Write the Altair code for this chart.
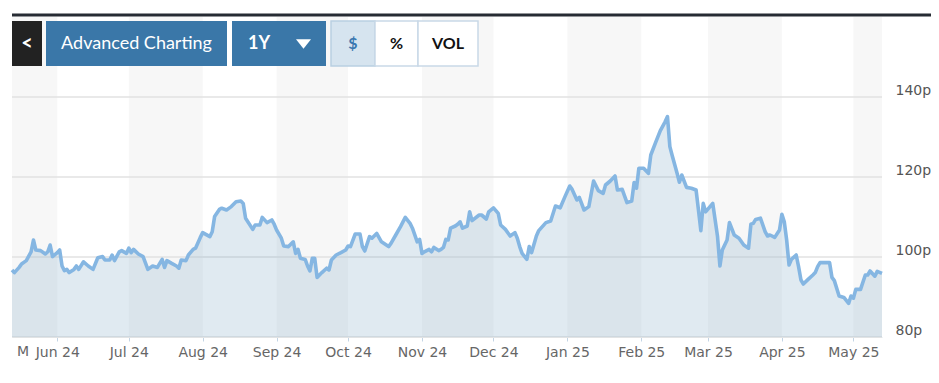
import altair as alt
import pandas as pd

# ---------------- data ----------------
start_date = "2024-05-13"
day_offsets = [
    0, 1, 3, 4, 6, 8, 9, 10, 12, 14, 15, 16, 17, 19, 20, 21, 22, 23, 24, 26,
    27, 28, 30, 32, 34, 36, 38, 39, 41, 42, 43, 45, 46, 48, 49, 50, 51, 53, 55, 57,
    59, 61, 63, 64, 65, 67, 69, 70, 71, 73, 74, 76, 77, 79, 80, 83, 84, 85, 87, 88,
    90, 92, 94, 96, 97, 98, 101, 102, 104, 105, 107, 109, 110, 111, 113, 114, 116, 118, 119, 120,
    121, 123, 124, 125, 126, 127, 128, 130, 132, 133, 134, 136, 138, 140, 141, 142, 144, 146, 147, 148,
    150, 151, 153, 155, 158, 159, 161, 163, 165, 167, 168, 170, 171, 172, 173, 175, 176, 177, 179, 180,
    181, 182, 183, 184, 186, 187, 188, 189, 191, 192, 193, 196, 197, 199, 200, 202, 204, 205, 207, 209,
    211, 212, 213, 214, 216, 217, 218, 220, 221, 224, 226, 228, 230, 232, 234, 235, 237, 238, 240, 242,
    244, 246, 248, 249, 251, 253, 254, 256, 258, 260, 261, 262, 263, 265, 267, 268, 270, 272, 274, 275,
    276, 277, 279, 280, 281, 283, 285, 287, 288, 289, 290, 291, 294, 296, 297, 298, 300, 301, 303, 305,
    307, 309, 310, 311, 312, 314, 316, 317, 318, 320, 322, 323, 324, 325, 326, 327, 329, 330, 331, 332,
    334, 336, 337, 338, 339, 341, 343, 344, 345, 347, 349, 351, 352, 353, 354, 356, 358, 359, 360, 362,
    363, 365,
]
prices = [
    96.75, 96.1, 97.4, 98.25, 99.1, 101.3, 104.25, 101.75, 101.6, 100.75, 101.3, 103.0, 100.1, 101.1, 101.75, 97.75, 96.6, 96.9, 96.1, 96.9,
    97.75, 96.9, 98.8, 97.75, 96.9, 99.8, 100.1, 99.25, 99.25, 100.5, 99.1, 101.3, 101.6, 100.9, 102.2, 101.1, 101.9, 100.75, 100.1, 96.9,
    97.75, 97.4, 99.4, 97.4, 99.1, 98.4, 97.75, 97.2, 99.25, 99.1, 100.5, 101.9, 102.2, 104.9, 106.1, 105.1, 106.3, 110.1, 111.9, 112.2,
    111.75, 112.6, 113.8, 114.0, 113.4, 109.7, 106.9, 108.0, 108.0, 109.9, 108.6, 109.25, 108.2, 106.75, 104.7, 102.75, 102.6, 103.8, 100.9, 101.9,
    99.7, 99.4, 97.75, 96.5, 99.7, 99.7, 94.9, 96.1, 97.2, 96.75, 99.25, 100.5, 101.1, 101.75, 102.75, 102.6, 105.75, 105.75, 102.6, 101.5,
    105.1, 104.7, 105.9, 103.8, 102.6, 103.4, 105.5, 107.6, 109.9, 108.4, 107.2, 103.8, 104.4, 100.9, 101.3, 101.9, 101.3, 102.4, 101.6, 101.9,
    102.4, 104.4, 104.25, 107.2, 107.75, 108.2, 108.8, 107.2, 107.75, 111.3, 109.1, 110.5, 110.5, 109.5, 111.3, 112.3, 110.9, 108.0, 106.9, 105.25,
    106.1, 104.7, 102.6, 100.9, 99.4, 102.6, 101.1, 105.25, 106.6, 108.6, 109.0, 112.75, 112.3, 115.1, 117.75, 116.9, 114.25, 114.9, 111.75, 112.6,
    119.0, 116.6, 115.9, 118.0, 119.0, 120.25, 116.75, 116.9, 113.6, 114.0, 118.6, 117.2, 122.2, 122.2, 120.9, 125.5, 128.6, 131.6, 133.8, 135.1,
    127.6, 125.3, 121.0, 118.7, 120.5, 117.4, 117.2, 116.75, 111.75, 106.6, 113.4, 111.3, 113.4, 105.1, 97.75, 101.75, 104.25, 108.6, 105.5, 104.7,
    103.0, 102.2, 108.2, 108.4, 109.4, 109.7, 106.3, 105.25, 105.5, 104.9, 106.75, 110.7, 108.8, 104.25, 98.0, 99.4, 100.5, 97.6, 94.25, 93.25,
    94.4, 95.5, 96.1, 97.6, 98.6, 98.6, 98.6, 94.9, 94.1, 90.25, 89.9, 88.4, 90.25, 89.7, 91.9, 91.9, 95.5, 95.5, 96.5, 95.2,
    96.4, 95.9,
]
band_starts = ["2024-05-13", "2024-07-01", "2024-09-01", "2024-11-01", "2025-01-01", "2025-03-01", "2025-05-01"]
band_ends = ["2024-06-01", "2024-08-01", "2024-10-01", "2024-12-01", "2025-02-01", "2025-04-01", "2025-05-13"]
month_ticks = [(2024, m) for m in range(6, 13)] + [(2025, m) for m in range(1, 6)]
y_ticks = [80, 100, 120, 140]

df = pd.DataFrame({
    "date": pd.to_datetime(start_date) + pd.to_timedelta(day_offsets, unit="D"),
    "price": prices,
})
bands = pd.DataFrame({"start": pd.to_datetime(band_starts), "end": pd.to_datetime(band_ends)})
grid = pd.DataFrame({"v": y_ticks})
one = pd.DataFrame({"k": [0]})

AXIS_FONT = "DejaVu Sans"

# ---------------- scales / axes ----------------
x_scale = alt.Scale(domain=[alt.DateTime(year=2024, month=5, date=13),
                            alt.DateTime(year=2025, month=5, date=13)])
y_scale = alt.Scale(domain=[80, 160], zero=False, nice=False)

x_axis = alt.Axis(
    values=[alt.DateTime(year=y, month=m, date=1) for y, m in month_ticks],
    format="%b %y", grid=False, domain=True, domainColor="#dfe6ec", domainWidth=1,
    tickColor="#c3d4e4", tickSize=4, tickWidth=1, labelPadding=4,
    labelFont=AXIS_FONT, labelFontSize=14, labelColor="#666666",
    labelOverlap=False, labelFlush=False, title=None,
)
y_axis = alt.Axis(
    orient="right", values=y_ticks, labelExpr="datum.value + 'p'",
    grid=False, domain=False, ticks=False, labelPadding=13, labelOffset=-7,
    labelFont=AXIS_FONT, labelFontSize=14, labelColor="#555555", title=None,
)

# ---------------- layers ----------------
band_layer = alt.Chart(bands).mark_rect(color="#f7f7f7").encode(
    x=alt.X("start:T", scale=x_scale, axis=x_axis),
    x2="end:T",
    y=alt.value(0),
    y2=alt.value(320),
)

grid_layer = alt.Chart(grid).mark_rule(color="#e2e2e2", strokeWidth=1.5).encode(
    y=alt.Y("v:Q", scale=y_scale, axis=y_axis),
)

area_layer = alt.Chart(df).mark_area(color="#83abc7", opacity=0.25).encode(
    x=alt.X("date:T", scale=x_scale, axis=x_axis),
    y=alt.Y("price:Q", scale=y_scale, axis=y_axis),
    y2=alt.datum(80),
)

line_layer = alt.Chart(df).mark_line(color="#85b6e2", strokeWidth=3.6, strokeJoin="round").encode(
    x=alt.X("date:T", scale=x_scale, axis=x_axis),
    y=alt.Y("price:Q", scale=y_scale, axis=y_axis),
)


def box(x0, x1, y0, y1, fill, stroke=None):
    kw = dict(fill=fill)
    if stroke:
        kw.update(stroke=stroke, strokeWidth=1.5)
    return alt.Chart(one).mark_rect(**kw).encode(
        x=alt.value(x0), x2=alt.value(x1), y=alt.value(y0), y2=alt.value(y1))


def label(txt, x, y, size, color, weight="normal", font="Lato", align="center"):
    return alt.Chart(one).mark_text(
        text=txt, fontSize=size, color=color, fontWeight=weight, font=font,
        align=align, baseline="middle").encode(x=alt.value(x), y=alt.value(y))


top_rule = alt.Chart(one).mark_rule(color="#262b33", strokeWidth=3).encode(
    x=alt.value(0), x2=alt.value(927), y=alt.value(-2))

BLUE = "#3a77a8"
decor = [
    top_rule,
    box(0, 30, 4, 49, "#222222"),
    box(34, 215, 4, 49, BLUE),
    box(220, 314, 4, 49, BLUE),
    box(319, 363, 4, 49, "#d6e4ef", "#b9cfe2"),
    box(363, 406, 4, 49, "#ffffff", "#c9d9e7"),
    box(406, 466, 4, 49, "#ffffff", "#c9d9e7"),
    label("<", 15, 26.5, 20, "#ffffff", "bold"),
    label("Advanced Charting", 124.5, 26.5, 18, "#ffffff"),
    label("1Y", 247, 26.5, 18, "#ffffff", "bold"),
    alt.Chart(one).mark_point(
        shape="M-1,-0.62L1,-0.62L0,0.62Z", size=225, filled=True, fill="#ffffff",
        opacity=1, strokeWidth=0).encode(x=alt.value(291.5), y=alt.value(27)),
    label("$", 341, 26.5, 16, "#3a78b0", "bold"),
    label("%", 384.5, 26.5, 16, "#111111", "bold"),
    label("VOL", 436, 26.5, 16, "#111111", "bold"),
    label("M", 5, 335, 14, "#666666", font=AXIS_FONT, align="left"),
]

chart = alt.layer(band_layer, grid_layer, area_layer, line_layer, *decor).properties(
    width=870,
    height=320,
    padding={"left": 4, "top": 9, "right": 49, "bottom": 30},
    autosize=alt.AutoSizeParams(type="none"),
    background="#ffffff",
).configure_view(stroke=None)

chart.save("out.html", embed_options={"renderer": "svg", "actions": False})
